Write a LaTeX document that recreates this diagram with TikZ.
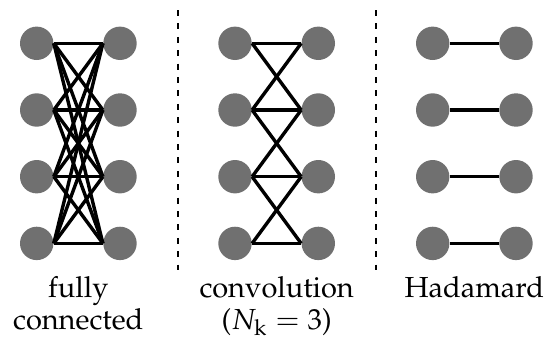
\documentclass[tikz,border=0pt]{standalone}
\usepackage[T1]{fontenc}
\usepackage{mathpazo}
\usetikzlibrary{positioning}
\tikzset{
    neuron/.style={circle, fill=black!56, minimum size=16.7pt, inner sep=0pt},
    link/.style={line width=1.7pt, draw=black},
    divider/.style={line width=1pt, dash pattern=on 3pt off 3.7pt},
    caption/.style={align=center, anchor=base, font=\fontsize{14.5}{16}\selectfont}
}

\begin{document}
\begin{tikzpicture}[x=0.5pt, y=-0.5pt]
    \useasboundingbox (0,0) rectangle (545,337);

    % neurons of the three layer types
    \foreach \i in {1,...,4} {
        \node (fcL\i) [neuron] at (36.7, {43.3+66.7*(\i-1)}) {};
        \node (fcR\i) [neuron] at (120, {43.3+66.7*(\i-1)}) {};
        \node (cvL\i) [neuron] at (235, {43.3+66.7*(\i-1)}) {};
        \node (cvR\i) [neuron] at (318.3, {43.3+66.7*(\i-1)}) {};
        \node (hdL\i) [neuron] at (432.7, {43.3+66.7*(\i-1)}) {};
        \node (hdR\i) [neuron] at (516, {43.3+66.7*(\i-1)}) {};
    }

    % fully connected
    \foreach \i in {1,...,4}
        \foreach \j in {1,...,4}
            \draw [link] (fcL\i.east) -- (fcR\j.west);

    % convolution, kernel of 3
    \foreach \i/\j in {1/1,1/2,2/1,2/2,2/3,3/2,3/3,3/4,4/3,4/4}
        \draw [link] (cvL\i.east) -- (cvR\j.west);

    % hadamard
    \foreach \i in {1,...,4}
        \draw [link] (hdL\i.east) -- (hdR\i.west);

    \draw [divider] (177.5,10) -- (177.5,270);
    \draw [divider] (375.5,10) -- (375.5,270);

    % captions (base = last line)
    \node (fcText) [caption] at (78.3,329.5) {fully\\connected};
    \node (cvText) [caption] at (276.7,329.5) {convolution\\($N_\mathrm{k}=3$)};
    \node (hdText) [caption] at (474.3,297.5) {Hadamard};
\end{tikzpicture}
\end{document}
